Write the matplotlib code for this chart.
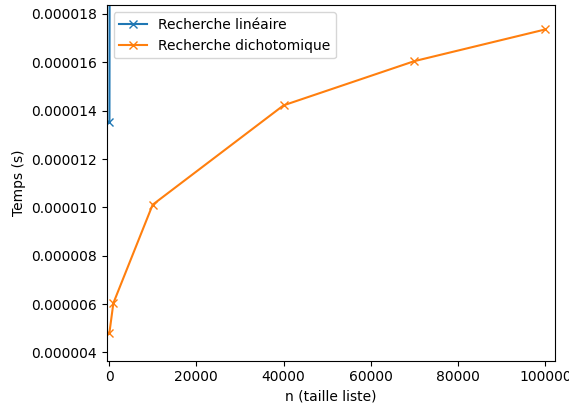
import matplotlib
matplotlib.use("Agg")
import matplotlib.pyplot as plt
from matplotlib.ticker import FormatStrFormatter

# tailles de liste testees
n_lin = [100, 1000]
t_lin = [0.00001352, 0.000135]

n_dicho = [100, 1000, 10000, 40000, 70000, 100000]
t_dicho = [0.00000482, 0.00000604, 0.00001011, 0.00001422, 0.00001605, 0.00001736]

fig = plt.figure(figsize=(5.69, 4.03), dpi=100)
ax = fig.add_axes([0.1875, 0.105, 0.788, 0.8814])

ax.plot(n_lin, t_lin, marker="x", label="Recherche linéaire")
ax.plot(n_dicho, t_dicho, marker="x", label="Recherche dichotomique")

ax.set_xlim(-530, 102220)
ax.set_ylim(0.00000366, 0.00001835)
ax.set_yticks([0.000004, 0.000006, 0.000008, 0.000010, 0.000012,
               0.000014, 0.000016, 0.000018])
ax.yaxis.set_major_formatter(FormatStrFormatter("%.6f"))

ax.set_xlabel("n (taille liste)")
ax.set_ylabel("Temps (s)")
ax.legend(loc="upper left")

fig.savefig("out.png", dpi=100)
